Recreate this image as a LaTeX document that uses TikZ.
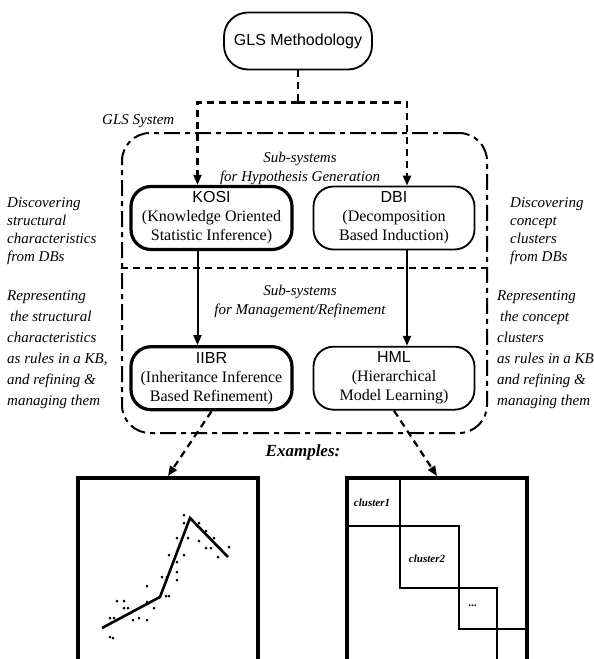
\documentclass[tikz,border=0pt]{standalone}
\usepackage{fontspec}
\setmainfont{Liberation Serif}
\setsansfont{Liberation Sans}
\usetikzlibrary{
  arrows.meta,
  positioning,
  calc
}
\tikzset{
  % Top methodology box
  topbox/.style={
    draw, rounded corners=24pt, line width=1.8pt,
    minimum width=148pt, minimum height=57pt,
    font=\sffamily\fontsize{16}{18}\selectfont
  },
  % Sub-system box
  procbox/.style={
    draw, rounded corners=20pt, line width=#1,
    minimum width=161pt, minimum height=63pt,
    inner sep=2pt, align=center,
    font=\fontsize{16}{19}\selectfont
  },
  % GLS system frame
  sysframe/.style={
    draw, line width=2pt, rounded corners=28pt,
    dash pattern=on 16pt off 5pt on 5pt off 5pt,
    minimum width=365pt, minimum height=300pt
  },
  % Italic annotations
  sidelabel/.style={
    anchor=north west, align=left, inner sep=0pt,
    font=\itshape\fontsize{15}{#1}\selectfont
  },
  midlabel/.style={
    align=center, inner sep=0pt,
    font=\itshape\fontsize{15}{19}\selectfont
  },
  % Example frames
  chartframe/.style={
    draw, line width=3.5pt, anchor=north,
    minimum width=180pt, minimum height=210pt
  },
  clusterlabel/.style={
    inner sep=0pt, font=\bfseries\itshape\fontsize{11}{13}\selectfont
  },
  % Connectors
  dashline/.style={
    line width=2.2pt, dash pattern=on 7pt off 5pt
  },
  dasharrow/.style={
    dashline, -{Triangle[length=10pt,width=8pt]}
  },
  solidarrow/.style={
    line width=2pt, -{Triangle[length=10pt,width=8pt]}
  },
}

\begin{document}
\begin{tikzpicture}[x=1pt, y=-1pt]

\useasboundingbox (0,0) rectangle (594,659);
\clip (0,0) rectangle (594,659);

% ── Methodology and system frame ──────────────────────────────────────────────
\node[topbox] (method) at (298,41) {GLS Methodology};

\node[sysframe] (glssys) at (304.5,283) {};
\node[anchor=west, inner sep=0pt, font=\itshape\fontsize{15}{18}\selectfont]
  (syslabel) at (102,121) {GLS System};

% ── Hypothesis generation ─────────────────────────────────────────────────────
\node[midlabel] (hypolabel) at (300,168)
  {Sub-systems\\for Hypothesis Generation};

\node[procbox=3.2pt] (kosi) at (211.5,218)
  {{\sffamily\fontsize{16}{19}\selectfont KOSI}\\
   (Knowledge Oriented\\Statistic Inference)};
\node[procbox=1.8pt, right=19pt of kosi] (dbi)
  {{\sffamily\fontsize{16}{19}\selectfont DBI}\\
   (Decomposition\\Based Induction)};

% ── Management / refinement ───────────────────────────────────────────────────
\coordinate (split) at (0,268);
\draw[dashline] (glssys.west |- split) -- (glssys.east |- split);

\node[midlabel] (mgmtlabel) at (300,301)
  {Sub-systems\\for Management/Refinement};

\node[procbox=3.2pt, below=94pt of kosi] (iibr)
  {{\sffamily\fontsize{16}{19}\selectfont IIBR}\\
   (Inheritance Inference\\Based Refinement)};
\node[procbox=1.8pt, right=19pt of iibr] (hml)
  {{\sffamily\fontsize{16}{19}\selectfont HML}\\
   (Hierarchical\\Model Learning)};

% Connectors
\draw[dashline] (method.south) -- ++(0,32) coordinate (fork);
\draw[dasharrow] (fork) -| ($(kosi.north)+(-14,0)$);
\draw[dasharrow] (fork) -| ($(dbi.north)+(13,0)$);
\draw[solidarrow] ($(kosi.south)+(-14,0)$) -- ($(iibr.north)+(-14,0)$);
\draw[solidarrow] ($(dbi.south)+(13,0)$) -- ($(hml.north)+(13,0)$);

% ── Side annotations ──────────────────────────────────────────────────────────
\node[sidelabel=18] (discleft) at (7,197)
  {Discovering\\structural\\characteristics\\from DBs};
\node[sidelabel=18] (discright) at (510,197)
  {Discovering\\concept\\clusters\\from DBs};
\node[sidelabel=21] (repleft) at (7,290)
  {Representing\\\hspace{3pt}the structural\\characteristics\\as rules in a KB,\\and refining \&\\managing them};
\node[sidelabel=21] (repright) at (497,290)
  {Representing\\\hspace{3pt}the concept\\clusters\\as rules in a KB,\\and refining \&\\managing them};

% ── Examples ──────────────────────────────────────────────────────────────────
\node[font=\bfseries\itshape\fontsize{17}{20}\selectfont] (examples) at (303,452)
  {Examples:};

\node[chartframe] (plotchart) at (168,476) {};
\node[chartframe] (clusterchart) at (437,476) {};

\draw[dasharrow] (iibr.south) -- (plotchart.north);
\draw[dasharrow] (hml.south) -- (clusterchart.north);

% Fitted piecewise line with data points
\draw[line width=2.6pt] (102,628) -- (160,597) -- (190,518) -- (228,557);
\foreach \px/\py in {110/618, 114/618, 117/601, 124/601, 124/608, 128/608,
    133/620, 139/618, 147/620, 147/586, 154/608, 147/602, 162/577, 167/577,
    166/596, 169/596, 169/555, 177/562, 177/572, 177/580, 177/538, 184/555,
    184/523, 184/515, 188/538, 199/523, 199/541, 206/531, 206/548, 211/548,
    214/538, 218/557, 229/547, 110/637, 113/638}
  \fill (\px,\py) circle (1.5pt);

% Cluster blocks
\draw[line width=2pt] (400,476) -- (400,588) -- (497,588) -- (497,670);
\draw[line width=2pt] (347,526) -- (459,526) -- (459,629) -- (527,629);
\node[clusterlabel] (cluster1) at (372,503) {cluster1};
\node[clusterlabel] (cluster2) at (427,559) {cluster2};
\node[clusterlabel] (clusterdots) at (473,606) {...};

\end{tikzpicture}
\end{document}
